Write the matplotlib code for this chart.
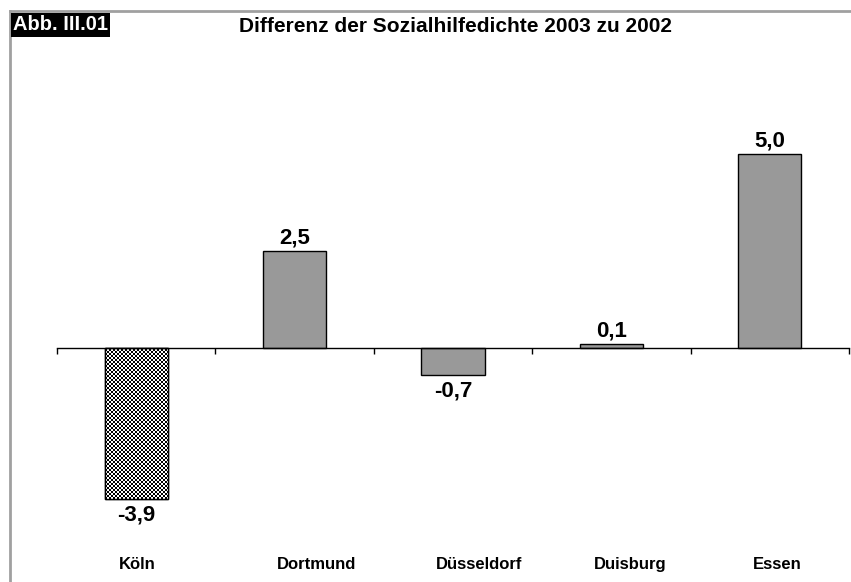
import numpy as np
import matplotlib
matplotlib.use("Agg")
import matplotlib.pyplot as plt
from matplotlib.lines import Line2D

categories = ["Köln", "Dortmund", "Düsseldorf", "Duisburg", "Essen"]
values = [-3.9, 2.5, -0.7, 0.1, 5.0]
value_labels = ["-3,9", "2,5", "-0,7", "0,1", "5,0"]
title = "Differenz der Sozialhilfedichte 2003 zu 2002"
tag = "Abb. III.01"

W, H = 851, 582
fig = plt.figure(figsize=(W / 100, H / 100), dpi=100)
plt.rcParams['font.family'] = ['Liberation Sans', 'DejaVu Sans']

left, right = 57 / W, 849 / W
top_px, bot_px = 60, 540
ax = fig.add_axes([left, 1 - bot_px / H, right - left, (bot_px - top_px) / H])
px_per_unit = 38.8
zero_px = 348
ax.set_ylim(-(bot_px - zero_px) / px_per_unit, (zero_px - top_px) / px_per_unit)
ax.set_xlim(-0.5, len(categories) - 0.5)

x = np.arange(len(categories))
bars = ax.bar(x, values, width=0.4, color="#999999", edgecolor="black", linewidth=1.0, zorder=2)

# checkered pattern for first bar
b0 = bars[0]
b0.set_facecolor("white")
x0, y0 = b0.get_x(), b0.get_y()
w0, h0 = b0.get_width(), b0.get_height()
nx, ny = 32, 76
checker = (np.indices((ny, nx)).sum(axis=0) % 2).astype(float)
im = ax.imshow(checker, cmap="gray", vmin=0, vmax=1, interpolation="nearest",
               extent=[x0, x0 + w0, y0, y0 + h0], aspect="auto", zorder=2.5)
im.set_clip_path(b0)
ax.bar([x[0]], [values[0]], width=0.4, facecolor="none", edgecolor="black", linewidth=1.0, zorder=3)
ax.set_aspect("auto")
ax.set_xlim(-0.5, len(categories) - 0.5)

for s in ["top", "right", "left"]:
    ax.spines[s].set_visible(False)
ax.spines["bottom"].set_position(("data", 0))
ax.spines["bottom"].set_linewidth(1.0)
ax.spines["bottom"].set_zorder(4)
ax.set_yticks([])
ax.set_xticks(np.arange(len(categories) + 1) - 0.5)
ax.set_xticklabels([])
ax.tick_params(axis="x", direction="out", length=4, width=1)
ax.patch.set_visible(False)

for xi, v, lab in zip(x, values, value_labels):
    if v >= 0:
        ax.annotate(lab, (xi, v), xytext=(0, 2), textcoords="offset points",
                    ha="center", va="bottom", fontsize=16, fontweight="bold")
    else:
        ax.annotate(lab, (xi, v), xytext=(0, -4), textcoords="offset points",
                    ha="center", va="top", fontsize=16, fontweight="bold")

for xi, c in zip(x, categories):
    ax.text(xi - 0.11, 1 - (569 - top_px) / (bot_px - top_px), c, transform=ax.get_xaxis_transform(),
            ha="left", va="baseline", fontsize=12, fontweight="bold")

# frame lines
fig.add_artist(Line2D([10 / W, 1], [1 - 11 / H, 1 - 11 / H], color="#a0a0a0", lw=2))
fig.add_artist(Line2D([10 / W, 10 / W], [0, 1 - 11 / H], color="#a0a0a0", lw=2))

fig.text(455 / W, 1 - 27 / H, title, ha="center", va="center", fontsize=15, fontweight="bold")
fig.text(13 / W, 1 - 25 / H, tag, ha="left", va="center", fontsize=14.5, fontweight="bold",
         color="white", bbox=dict(boxstyle="square,pad=0.12", facecolor="black", edgecolor="none"))

fig.savefig("out.png", dpi=100)
